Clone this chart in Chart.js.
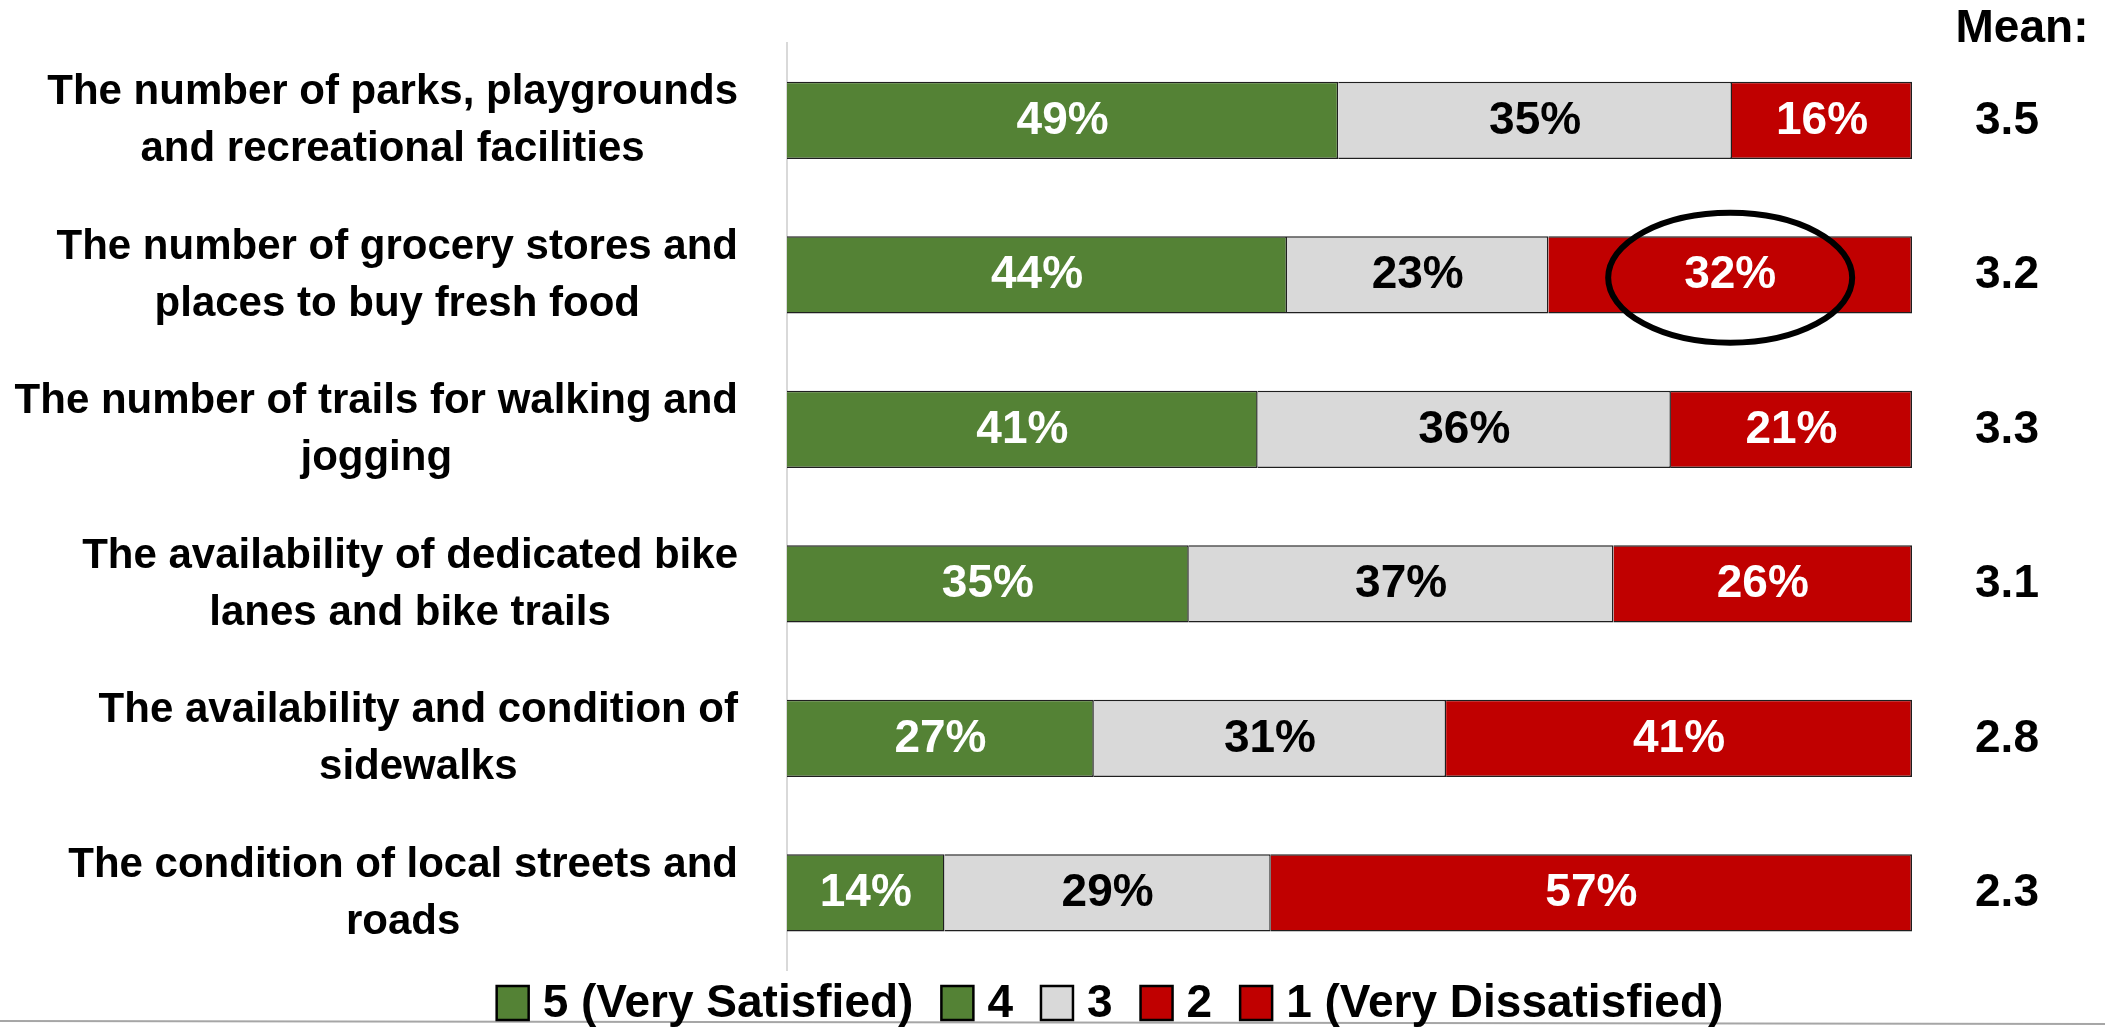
<!DOCTYPE html>
<html>
<head>
<meta charset="utf-8">
<script src="https://cdn.jsdelivr.net/npm/chart.js@4.4.1/dist/chart.umd.min.js"></script>
<style>
html, body { margin: 0; padding: 0; background: #fff; }
</style>
</head>
<body>
<canvas id="chartjs-0" width="2105" height="1028"></canvas>
<script>
"use strict";
/* rows, top to bottom (two lines each, as on the slide) */
var categories = [
    ["The number of parks, playgrounds", "and recreational facilities"],
    ["The number of grocery stores and", "places to buy fresh food"],
    ["The number of trails for walking and", "jogging"],
    ["The availability of dedicated bike", "lanes and bike trails"],
    ["The availability and condition of", "sidewalks"],
    ["The condition of local streets and", "roads"]
];
/* 5 + 4 combined, 3, 2 + 1 combined (percent labels on the bars) */
var satisfied = [49, 44, 41, 35, 27, 14];
var neutral = [35, 23, 36, 37, 31, 29];
var dissatisfied = [16, 32, 21, 26, 41, 57];
var means = ["3.5", "3.2", "3.3", "3.1", "2.8", "2.3"];
var legendLabels = ["5 (Very Satisfied)", "4", "3", "2", "1 (Very Dissatisfied)"];
var highlightRow = 1;

var GREEN = "#548235";
var GRAY = "#d9d9d9";
var RED = "#c00000";
var legendColors = [GREEN, GREEN, GRAY, RED, RED];
var FONT = '"Liberation Sans", Arial, sans-serif';

/* bars are drawn as a 100% stack of each row */
function shares(values) {
    var out = [];
    for (var i = 0; i < values.length; i++) {
        var total = satisfied[i] + neutral[i] + dissatisfied[i];
        out[i] = values[i] / total * 100;
    }
    return out;
}

var overlay = {
    id: "overlay",
    beforeDraw: function (chart) {
        /* thin gray slide rule under the legend */
        var ctx = chart.ctx;
        ctx.save();
        ctx.strokeStyle = "#a6a6a6";
        ctx.lineWidth = 2;
        ctx.beginPath();
        ctx.moveTo(0, 1021);
        ctx.lineTo(chart.width, 1024);
        ctx.stroke();
        ctx.restore();
    },
    afterDatasetsDraw: function (chart) {
        var ctx = chart.ctx;
        var yScale = chart.scales.y;
        var area = chart.chartArea;
        ctx.save();
        ctx.textAlign = "center";
        ctx.textBaseline = "middle";

        /* percent labels */
        ctx.font = "bold 46px " + FONT;
        chart.data.datasets.forEach(function (ds, d) {
            chart.getDatasetMeta(d).data.forEach(function (bar, i) {
                ctx.fillStyle = ds.labelColor;
                ctx.fillText(ds.raw[i] + "%", (bar.x + bar.base) / 2, bar.y + 1);
            });
        });

        /* category labels: block right aligned, lines centred in it */
        ctx.font = "bold 42px " + FONT;
        ctx.fillStyle = "#000";
        categories.forEach(function (lines, i) {
            var cy = yScale.getPixelForValue(i);
            var w = 0;
            lines.forEach(function (l) { w = Math.max(w, ctx.measureText(l).width); });
            var cx = area.left - 49 - w / 2;
            lines.forEach(function (l, k) {
                ctx.fillText(l, cx, cy + (k - (lines.length - 1) / 2) * 57 + 1);
            });
        });

        /* mean column */
        ctx.font = "bold 46px " + FONT;
        ctx.textBaseline = "alphabetic";
        ctx.fillText("Mean:", 2022, 42);
        ctx.textBaseline = "middle";
        means.forEach(function (m, i) {
            ctx.fillText(m, 2007, yScale.getPixelForValue(i) + 1);
        });

        /* circled value */
        var hb = chart.getDatasetMeta(2).data[highlightRow];
        ctx.beginPath();
        ctx.ellipse((hb.x + hb.base) / 2, hb.y + 3, 122, 65, 0, 0, Math.PI * 2);
        ctx.lineWidth = 6;
        ctx.strokeStyle = "#000";
        ctx.stroke();

        /* legend: box, short gap, text, wider gap */
        ctx.font = "bold 46px " + FONT;
        ctx.textAlign = "left";
        var boxW = 32, boxH = 34, gapIn = 14, gapOut = 28;
        var total = 0;
        legendLabels.forEach(function (t, i) {
            total += boxW + gapIn + ctx.measureText(t).width + (i > 0 ? gapOut : 0);
        });
        var lx = 1110 - total / 2;
        var ly = 1003;
        legendLabels.forEach(function (t, i) {
            ctx.fillStyle = legendColors[i];
            ctx.fillRect(lx, ly - boxH / 2, boxW, boxH);
            ctx.lineWidth = 2.5;
            ctx.strokeStyle = "#000";
            ctx.strokeRect(lx, ly - boxH / 2, boxW, boxH);
            ctx.fillStyle = "#000";
            ctx.fillText(t, lx + boxW + gapIn, ly + 1);
            lx += boxW + gapIn + ctx.measureText(t).width + gapOut;
        });
        ctx.restore();
    }
};

Chart.defaults.font.family = FONT;
Chart.defaults.color = "#000";

var ctx = document.getElementById("chartjs-0");
var myChart = new Chart(ctx, {
    type: "bar",
    data: {
        labels: categories,
        datasets: [
            { label: "Satisfied", data: shares(satisfied), raw: satisfied, backgroundColor: GREEN, labelColor: "#fff" },
            { label: "Neutral", data: shares(neutral), raw: neutral, backgroundColor: GRAY, labelColor: "#000" },
            { label: "Dissatisfied", data: shares(dissatisfied), raw: dissatisfied, backgroundColor: RED, labelColor: "#fff" }
        ]
    },
    options: {
        indexAxis: "y",
        responsive: false,
        animation: false,
        layout: { padding: { top: 43, right: 193, left: 308, bottom: 58 } },
        datasets: {
            bar: { categoryPercentage: 0.5, barPercentage: 1, borderColor: "#1f1f1f", borderWidth: 1.5 }
        },
        scales: {
            x: { stacked: true, min: 0, max: 100, display: false },
            y: {
                stacked: true,
                grid: { display: false },
                border: { display: true, color: "#d9d9d9", width: 2 },
                ticks: { display: false },
                afterFit: function (scale) { scale.width = 479; }
            }
        },
        plugins: {
            tooltip: { enabled: false },
            legend: { display: false }
        }
    },
    plugins: [overlay]
});
</script>
</body>
</html>
